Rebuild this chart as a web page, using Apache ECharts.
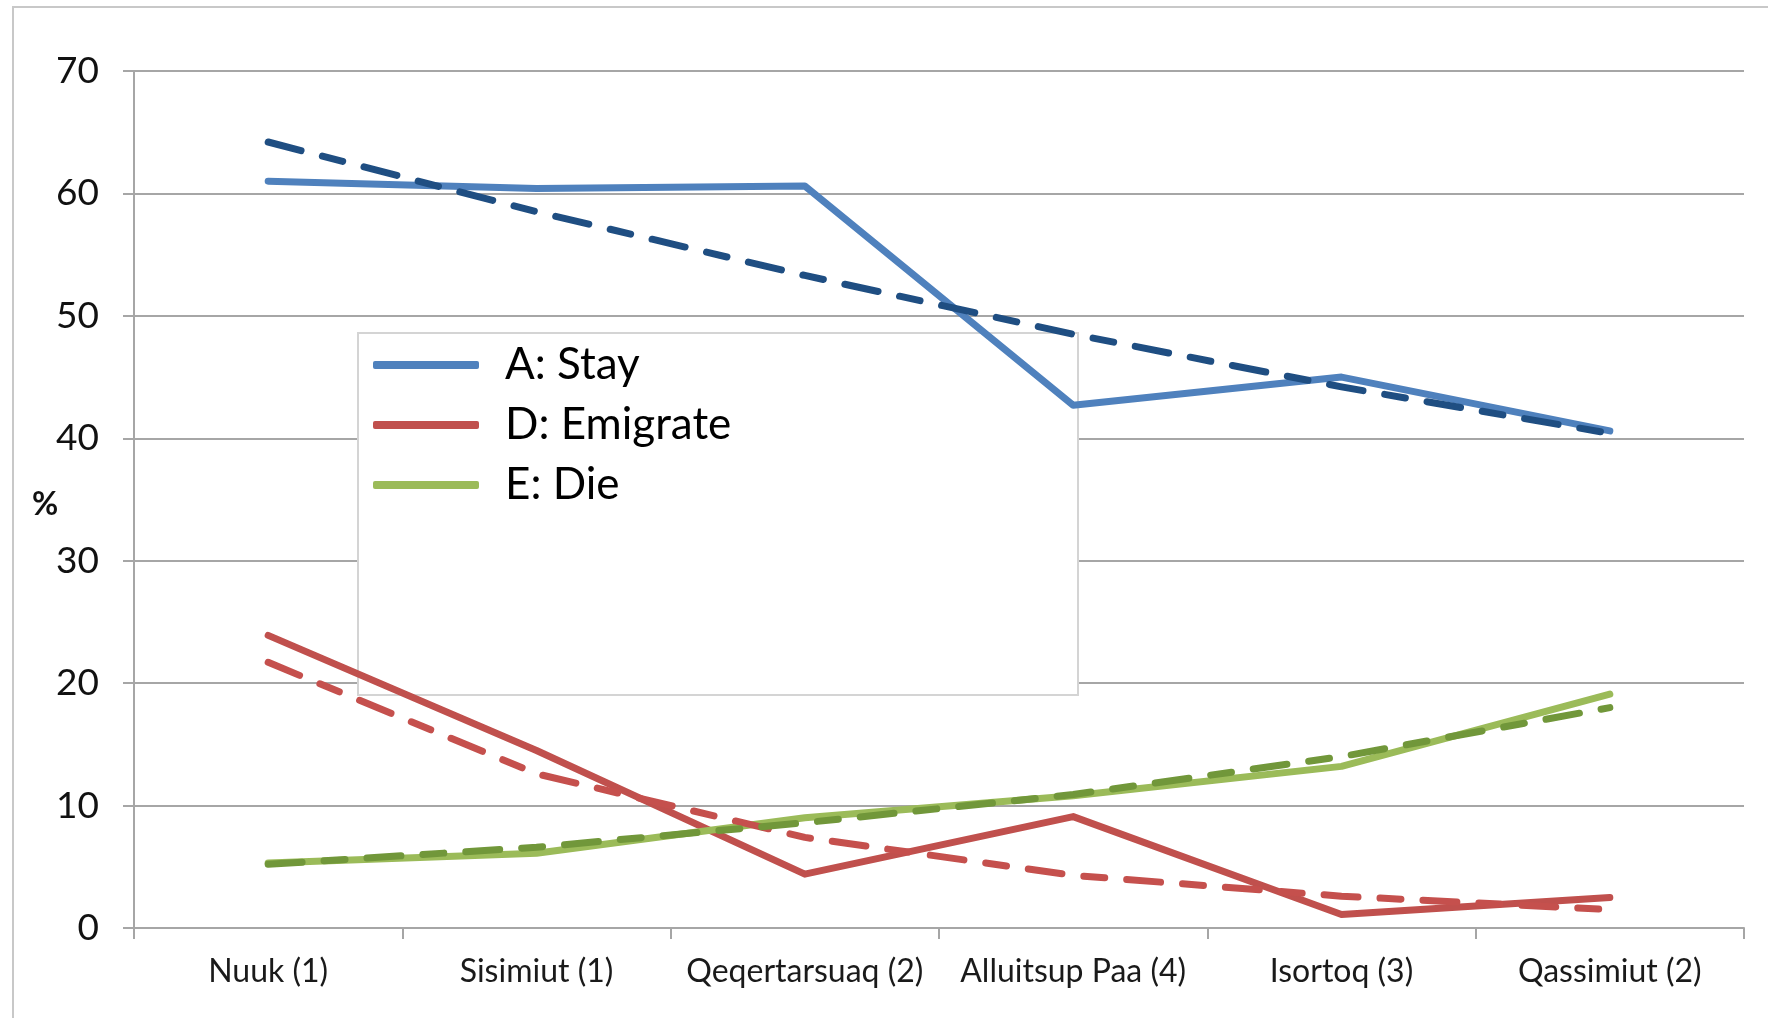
<!DOCTYPE html>
<html>
<head>
<meta charset="utf-8">
<script src="https://cdn.jsdelivr.net/npm/echarts@6/dist/echarts.min.js"></script>
<style>
html,body{margin:0;padding:0;background:#fff;}
#chart{width:1768px;height:1018px;}
</style>
</head>
<body>
<div id="chart"></div>
<script>
const categories = ['Nuuk (1)', 'Sisimiut (1)', 'Qeqertarsuaq (2)', 'Alluitsup Paa (4)', 'Isortoq (3)', 'Qassimiut (2)'];
const yTicks = [0, 10, 20, 30, 40, 50, 60, 70];
const stay = [61.0, 60.4, 60.6, 42.7, 45.0, 40.6];
const emigrate = [23.9, 14.5, 4.4, 9.1, 1.1, 2.5];
const die = [5.3, 6.1, 9.0, 10.8, 13.2, 19.1];
const stayTrend = [64.2, 58.5, 53.3, 48.5, 44.2, 40.4];
const emigrateTrend = [21.7, 12.6, 7.4, 4.3, 2.6, 1.5];
const dieTrend = [5.2, 6.6, 8.6, 10.9, 14.0, 18.0];
const seriesNames = ['A: Stay', 'D: Emigrate', 'E: Die'];
const yAxisTitle = '%';

const FONT = 'Lato';
const chart = echarts.init(document.getElementById('chart'), null, {renderer: 'canvas'});

function solid(name, data, color) {
  return {
    name: name, type: 'line', data: data, symbol: 'none', z: 3,
    lineStyle: {color: color, width: 7, cap: 'round', join: 'round'},
    itemStyle: {color: color}
  };
}
function dashed(name, data, color) {
  return {
    name: name, type: 'line', data: data, symbol: 'none', z: 4,
    lineStyle: {color: color, width: 7, type: [34, 22, 21, 22], cap: 'round', join: 'round'},
    itemStyle: {color: color}
  };
}

chart.setOption({
  animation: false,
  backgroundColor: '#fff',
  grid: {left: 134, right: 24, top: 71, bottom: 90, containLabel: false},
  graphic: [
    {type: 'rect', z: -10, silent: true,
     shape: {x: 13, y: 7, width: 1800, height: 1100},
     style: {fill: 'none', stroke: '#c8c8c8', lineWidth: 2}},
    {type: 'rect', z: 1, silent: true,
     shape: {x: 358, y: 333, width: 720, height: 362},
     style: {fill: '#ffffff', stroke: '#d4d4d4', lineWidth: 2}},
    {type: 'text', z: 5, silent: true, x: 45, y: 505,
     style: {text: yAxisTitle, fontFamily: FONT, fontSize: 32, fontWeight: 'bold', fill: '#111',
             align: 'center', verticalAlign: 'middle'}}
  ],
  legend: {
    data: seriesNames,
    orient: 'vertical',
    left: 373, top: 341,
    padding: 0,
    itemGap: 12,
    itemWidth: 106, itemHeight: 8,
    icon: 'roundRect',
    textStyle: {fontFamily: FONT, fontSize: 44, color: '#000', lineHeight: 48, padding: [0, 0, 0, 21]}
  },
  xAxis: {
    type: 'category',
    data: categories,
    boundaryGap: true,
    axisLine: {lineStyle: {color: '#a6a6a6', width: 2}},
    axisTick: {show: true, length: 11, lineStyle: {color: '#a6a6a6', width: 2}},
    axisLabel: {fontFamily: FONT, fontSize: 32, color: '#1a1a1a', margin: 28, interval: 0}
  },
  yAxis: {
    type: 'value',
    min: yTicks[0], max: yTicks[yTicks.length - 1], interval: 10,
    axisLine: {show: true, lineStyle: {color: '#a6a6a6', width: 2}},
    axisTick: {show: true, length: 11, lineStyle: {color: '#a6a6a6', width: 2}},
    axisLabel: {fontFamily: FONT, fontSize: 37, color: '#111', margin: 35},
    splitLine: {show: true, lineStyle: {color: '#a6a6a6', width: 2}}
  },
  series: [
    solid(seriesNames[0], stay, '#4F81BD'),
    solid(seriesNames[1], emigrate, '#C0504D'),
    solid(seriesNames[2], die, '#9BBB59'),
    dashed('A: Stay (trend)', stayTrend, '#1F4E82'),
    dashed('D: Emigrate (trend)', emigrateTrend, '#C5504D'),
    dashed('E: Die (trend)', dieTrend, '#71973A')
  ]
});
</script>
</body>
</html>
